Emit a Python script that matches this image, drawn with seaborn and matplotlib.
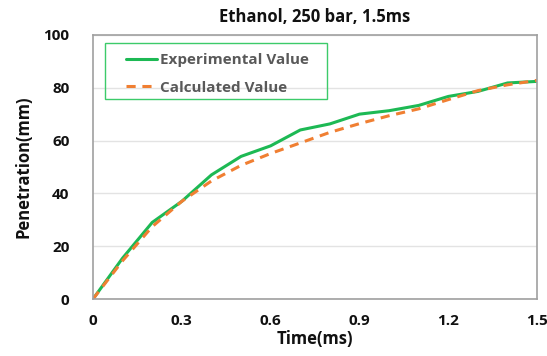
import matplotlib
matplotlib.use("Agg")
import matplotlib.pyplot as plt
import matplotlib.patches as mpatches
import seaborn as sns
import pandas as pd

time_ms = [0, 0.1, 0.2, 0.3, 0.4, 0.5, 0.6, 0.7, 0.8, 0.9, 1.0, 1.1, 1.2, 1.3, 1.4, 1.5]
experimental = [0, 15.5, 29, 37, 47, 54, 58, 64, 66.3, 70, 71.3, 73.3, 76.7, 78.6, 81.8, 82.4]
calculated = [0, 14.5, 27.4, 37, 44.7, 50.6, 55.1, 59.1, 63.1, 66.4, 69.4, 72, 75.5, 78.9, 81.1, 82.8]
series_names = ["Experimental Value", "Calculated Value"]
x_ticks = [0, 0.3, 0.6, 0.9, 1.2, 1.5]
x_tick_labels = ["0", "0.3", "0.6", "0.9", "1.2", "1.5"]
y_ticks = [0, 20, 40, 60, 80, 100]

df = pd.DataFrame({
    "Time": time_ms * 2,
    "Penetration": experimental + calculated,
    "Series": [series_names[0]] * len(time_ms) + [series_names[1]] * len(time_ms),
})

sns.set_theme(style="white")
plt.rcParams["font.family"] = ["Open Sans", "DejaVu Sans"]

fig = plt.figure(figsize=(5.47, 3.56), dpi=100)
ax = fig.add_axes([0.170, 0.160, 0.812, 0.742])

sns.lineplot(data=df, x="Time", y="Penetration", hue="Series", style="Series",
             palette={series_names[0]: "#1DB954", series_names[1]: "#F07F32"},
             dashes={series_names[0]: "", series_names[1]: (3, 2.2)},
             linewidth=2.2, ax=ax)

ax.set_xlim(0, 1.5)
ax.set_ylim(0, 100)
ax.set_xticks(x_ticks)
ax.set_xticklabels(x_tick_labels)
ax.set_yticks(y_ticks)
ax.yaxis.grid(True, color="#E3E3E3", linewidth=1.0)
ax.xaxis.grid(False)
for s in ax.spines.values():
    s.set_color("#A0A0A0")
    s.set_linewidth(1.2)
ax.tick_params(axis="x", direction="in", length=5, color="#A0A0A0", width=1.0, pad=11)
ax.tick_params(axis="y", length=0, pad=17)
for lab in ax.get_xticklabels() + ax.get_yticklabels():
    lab.set_fontweight("bold")
    lab.set_fontsize(11)
    lab.set_color("#111111")

ax.set_xlabel("Time(ms)", fontsize=12, fontweight="bold", labelpad=1, color="#111111")
ax.set_ylabel("Penetration(mm)", fontsize=12, fontweight="bold", labelpad=8, color="#111111")
ax.set_title("Ethanol, 250 bar, 1.5ms", fontsize=12, fontweight="bold", pad=9, color="#111111")

leg = ax.legend(loc="upper left", bbox_to_anchor=(0.047, 0.978), frameon=False,
                handlelength=2.0, handletextpad=0.25, borderpad=0.3, labelspacing=0.9,
                prop={"weight": "bold", "size": 11})
for t in leg.get_texts():
    t.set_color("#595959")
rect = mpatches.Rectangle((0.027, 0.758), 0.499, 0.211, transform=ax.transAxes,
                          fill=False, edgecolor="#3CCB6A", linewidth=1.0, zorder=5)
ax.add_patch(rect)

fig.savefig("out.png", dpi=100)
